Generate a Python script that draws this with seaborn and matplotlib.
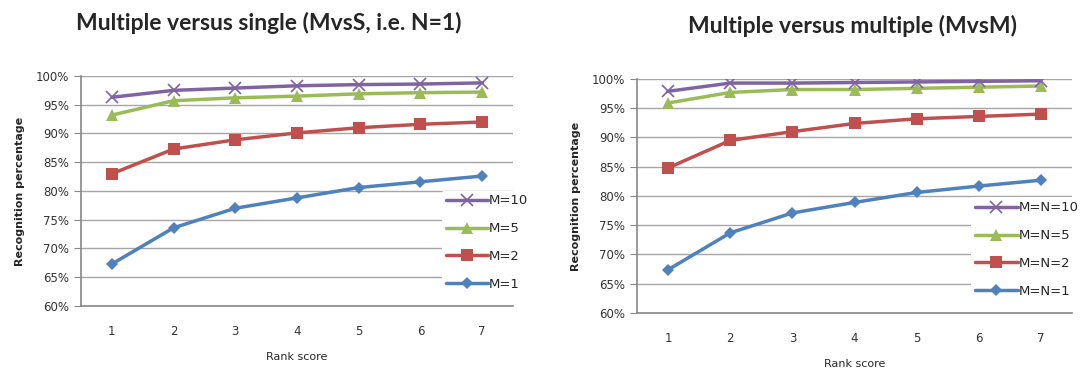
import pandas as pd
import matplotlib.pyplot as plt
import seaborn as sns
from matplotlib.ticker import PercentFormatter

# Rank scores
ranks = [1, 2, 3, 4, 5, 6, 7]

# MvsS (N=1)
mvss_m1 = [67.3, 73.6, 77.0, 78.8, 80.6, 81.6, 82.6]
mvss_m2 = [83.0, 87.3, 88.9, 90.1, 91.0, 91.6, 92.0]
mvss_m5 = [93.2, 95.7, 96.2, 96.5, 96.9, 97.1, 97.2]
mvss_m10 = [96.3, 97.5, 97.9, 98.3, 98.5, 98.6, 98.8]

# MvsM
mvsm_1 = [67.4, 73.7, 77.1, 78.9, 80.6, 81.7, 82.7]
mvsm_2 = [84.8, 89.5, 91.0, 92.4, 93.2, 93.6, 94.0]
mvsm_5 = [95.9, 97.7, 98.2, 98.2, 98.4, 98.6, 98.8]
mvsm_10 = [97.9, 99.3, 99.3, 99.4, 99.5, 99.6, 99.7]

labels_left = ["M=1", "M=2", "M=5", "M=10"]
labels_right = ["M=N=1", "M=N=2", "M=N=5", "M=N=10"]

colors = ["#4F81BD", "#C0504D", "#9BBB59", "#8064A2"]
markers = ["D", "s", "^", "x"]
msizes = [6, 9, 9, 9]


def long_df(series, labels):
    rows = []
    for lab, vals in zip(labels, series):
        for r, v in zip(ranks, vals):
            rows.append({"rank": r, "value": v, "series": lab})
    return pd.DataFrame(rows)


df_left = long_df([mvss_m1, mvss_m2, mvss_m5, mvss_m10], labels_left)
df_right = long_df([mvsm_1, mvsm_2, mvsm_5, mvsm_10], labels_right)

sns.set_style("white")
plt.rcParams["font.family"] = ["DejaVu Sans"]

fig = plt.figure(figsize=(10.89, 3.76), dpi=100)
ax1 = fig.add_axes([0.0744, 0.1862, 0.3967, 0.6117])
ax2 = fig.add_axes([0.585, 0.1676, 0.3994, 0.6223])

panels = [
    (ax1, df_left, labels_left, "Multiple versus single (MvsS, i.e. N=1)", 0.247, 0.94, 1.06),
    (ax2, df_right, labels_right, "Multiple versus multiple (MvsM)", 0.783, 0.932, 1.04),
]

for ax, df, labels, title, tx, ty, lx in panels:
    for lab, c, m, ms in zip(labels, colors, markers, msizes):
        sub = df[df["series"] == lab]
        sns.lineplot(data=sub, x="rank", y="value", ax=ax, color=c, marker=m,
                     markersize=ms, linewidth=2.5, markeredgecolor=c,
                     markeredgewidth=1.2 if m == "x" else 0, label=lab)
    ax.set_xlim(0.5, 7.5)
    ax.set_ylim(60, 100)
    ax.set_yticks(range(60, 101, 5))
    ax.yaxis.set_major_formatter(PercentFormatter(decimals=0))
    ax.set_xticks(ranks)
    ax.set_xticks([x + 0.5 for x in range(0, 8)], minor=True)
    ax.tick_params(axis="x", which="major", length=0, pad=14, labelsize=8.5, labelcolor="#333333")
    ax.tick_params(axis="x", which="minor", direction="inout", length=7, color="#888888", width=1)
    ax.tick_params(axis="y", direction="out", length=5, left=True, color="#888888",
                   labelsize=8.5, labelcolor="#333333")
    ax.grid(axis="y", color="#a6a6a6", linewidth=1)
    ax.set_axisbelow(True)
    for s in ["top", "right"]:
        ax.spines[s].set_visible(False)
    for s in ["left", "bottom"]:
        ax.spines[s].set_color("#888888")
        ax.spines[s].set_linewidth(1.2)
    ax.set_xlabel("Rank score", fontsize=8, labelpad=10)
    ax.set_ylabel("Recognition percentage", fontsize=8, fontweight="bold", labelpad=8)
    handles, labs = ax.get_legend_handles_labels()
    leg = ax.legend(handles[::-1], labs[::-1], loc="lower right", bbox_to_anchor=(lx, 0.02),
                    frameon=True, framealpha=1, edgecolor="white", fontsize=9.5,
                    handlelength=3.2, handletextpad=0.1, labelspacing=1.12, borderpad=0.3)
    leg.get_frame().set_linewidth(0)
    fig.text(tx, ty, title, ha="center", va="center", fontsize=16.5, fontweight="bold",
             family=["Lato", "DejaVu Sans"])

fig.savefig("out.png", dpi=100)
